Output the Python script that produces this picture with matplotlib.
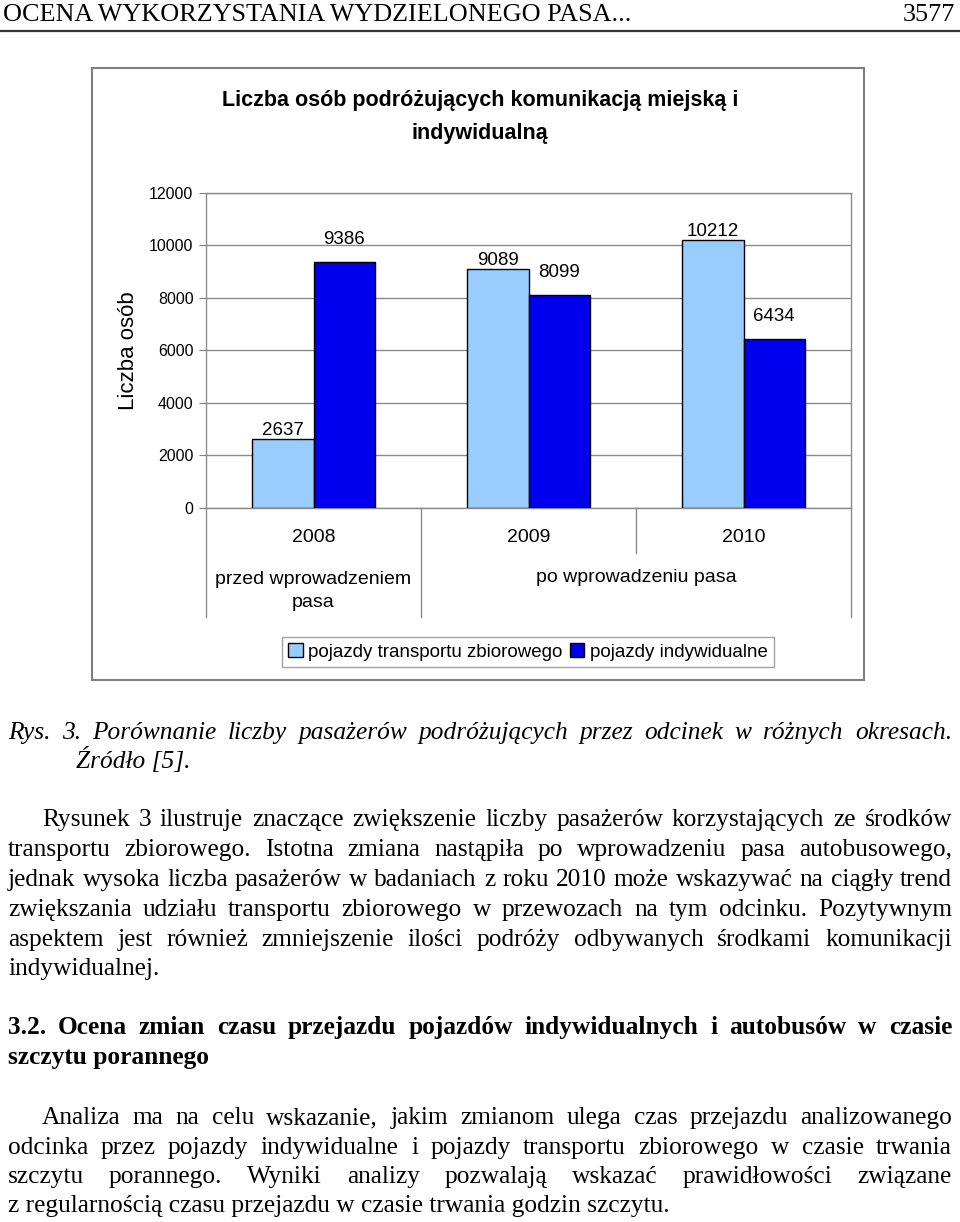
import numpy as np
import matplotlib
matplotlib.use('Agg')
import matplotlib.pyplot as plt
from matplotlib.patches import Rectangle, Patch
from matplotlib.lines import Line2D

# ---------------- data ----------------
years = ['2008', '2009', '2010']
period_labels = ['przed wprowadzeniem\npasa', 'po wprowadzeniu pasa']
transit = [2637, 9089, 10212]
individual = [9386, 8099, 6434]
series_names = ['pojazdy transportu zbiorowego', 'pojazdy indywidualne']
chart_title = 'Liczba osób podróżujących komunikacją miejską i\nindywidualną'
y_label = 'Liczba osób'
y_ticks = [0, 2000, 4000, 6000, 8000, 10000, 12000]

header_left = 'OCENA WYKORZYSTANIA WYDZIELONEGO PASA...'
header_right = '3577'
caption = ['Rys. 3. Porównanie liczby pasażerów podróżujących przez odcinek w różnych okresach.',
           'Źródło [5].']
para1 = ['Rysunek 3 ilustruje znaczące zwiększenie liczby pasażerów korzystających ze środków',
         'transportu zbiorowego. Istotna zmiana nastąpiła po wprowadzeniu pasa autobusowego,',
         'jednak wysoka liczba pasażerów w badaniach z roku 2010 może wskazywać na ciągły trend',
         'zwiększania udziału transportu zbiorowego w przewozach na tym odcinku. Pozytywnym',
         'aspektem jest również zmniejszenie ilości podróży odbywanych środkami komunikacji',
         'indywidualnej.']
heading = ['3.2. Ocena zmian czasu przejazdu pojazdów indywidualnych i autobusów w czasie',
           'szczytu porannego']
para2 = ['Analiza ma na celu wskazanie, jakim zmianom ulega czas przejazdu analizowanego',
         'odcinka przez pojazdy indywidualne i pojazdy transportu zbiorowego w czasie trwania',
         'szczytu porannego. Wyniki analizy pozwalają wskazać prawidłowości związane',
         'z regularnością czasu przejazdu w czasie trwania godzin szczytu.']

# ---------------- layout helpers ----------------
W, H = 960, 1222
fig = plt.figure(figsize=(W / 100, H / 100), dpi=100)
fig.patch.set_facecolor('white')


def fx(x):
    return x / W


def fy(y):
    return 1 - y / H


SERIF = ['Liberation Serif', 'DejaVu Serif']
SANS = ['Liberation Sans', 'DejaVu Sans']
LIGHT = '#99CCFF'
DARK = '#0000EE'
GRID = '#8a8a8a'

renderer = fig.canvas.get_renderer()


def justify(line, x0, x1, yb, size, **kw):
    words = line.split()
    texts = [fig.text(0, fy(yb), w, va='baseline', ha='left', fontsize=size,
                      family=SERIF, **kw) for w in words]
    widths = [t.get_window_extent(renderer).width for t in texts]
    n = len(texts)
    avail = x1 - x0
    min_gap = 0.2 * size * 100 / 72
    if sum(widths) + (n - 1) * min_gap > avail:
        new = size * (avail - (n - 1) * min_gap) / sum(widths)
        for t in texts:
            t.set_fontsize(new)
        widths = [t.get_window_extent(renderer).width for t in texts]
    gap = (avail - sum(widths)) / max(n - 1, 1)
    x = x0
    for t, w in zip(texts, widths):
        t.set_x(fx(x))
        x += w + gap


def plain(line, x0, yb, size, **kw):
    fig.text(fx(x0), fy(yb), line, va='baseline', ha='left', fontsize=size,
             family=SERIF, **kw)


# ---------------- header ----------------
fig.text(fx(3), fy(21), header_left, family=SERIF, fontsize=18.8, va='baseline', ha='left')
fig.text(fx(955), fy(21), header_right, family=SERIF, fontsize=18.8, va='baseline', ha='right')
fig.add_artist(Line2D([0, 1], [fy(30.5)] * 2, transform=fig.transFigure, color='#333333', lw=1.6))

# ---------------- chart ----------------
fig.add_artist(Rectangle((fx(92), fy(680)), fx(864) - fx(92), (680 - 68) / H,
                         transform=fig.transFigure, fill=False, edgecolor='#7f7f7f', lw=1.5))

fig.text(fx(480), fy(117), chart_title, family=SANS, fontsize=15.5, weight='bold',
         ha='center', va='center', linespacing=1.75)

ax = fig.add_axes([fx(206), fy(508), fx(851) - fx(206), (508 - 193) / H])
xc = np.arange(len(years)) + 0.5
bw = 0.286
ax.bar(xc - bw / 2, transit, bw, color=LIGHT, edgecolor='black', linewidth=1.0, zorder=3)
ax.bar(xc + bw / 2, individual, bw, color=DARK, edgecolor='black', linewidth=1.0, zorder=3)
ax.set_xlim(0, len(years))
ax.set_ylim(y_ticks[0], y_ticks[-1])
ax.set_yticks(y_ticks)
ax.set_yticklabels([str(v) for v in y_ticks], family=SANS)
ax.yaxis.grid(True, color=GRID, lw=1)
ax.set_axisbelow(True)
ax.set_xticks([])
ax.tick_params(axis='y', direction='out', length=5, color='#808080', labelsize=11.5, pad=4)
for s in ax.spines.values():
    s.set_color('#8a8a8a')
    s.set_linewidth(1)

for xi, v in zip(xc - bw / 2, transit):
    ax.annotate(str(v), (xi, v), xytext=(0, 3), textcoords='offset points',
                ha='center', va='baseline', fontsize=13.5, family=SANS)
for xi, v in zip(xc + bw / 2, individual):
    ax.annotate(str(v), (xi, v), xytext=(0, 13), textcoords='offset points',
                ha='center', va='baseline', fontsize=13.5, family=SANS)

tr = ax.get_xaxis_transform()
ph = 508 - 193
for xs, y_end in [(0, 617), (1, 617), (2, 553), (3, 617)]:
    ax.plot([xs, xs], [0, (508 - y_end) / ph], transform=tr, color=GRID, lw=1, clip_on=False)
for xi, yr in zip(xc, years):
    ax.text(xi, (508 - 538) / ph, yr, transform=tr, ha='center', va='center',
            fontsize=14, family=SANS)
ax.text(0.5, (508 - 591) / ph, period_labels[0], transform=tr, ha='center', va='center',
        fontsize=14, family=SANS, linespacing=1.4)
ax.text(2.0, (508 - 578) / ph, period_labels[1], transform=tr, ha='center', va='center',
        fontsize=14, family=SANS)

fig.text(fx(128), fy(351), y_label, rotation=90, ha='center', va='center',
         fontsize=16, family=SANS)

handles = [Patch(facecolor=LIGHT, edgecolor='black', label=series_names[0]),
           Patch(facecolor=DARK, edgecolor='black', label=series_names[1])]
leg = fig.legend(handles=handles, loc='center', bbox_to_anchor=(fx(528), fy(652)), ncol=2,
                 frameon=True, fancybox=False, edgecolor='#8a8a8a',
                 prop={'family': SANS, 'size': 13.5}, handlelength=0.75, handleheight=0.75,
                 handletextpad=0.3, columnspacing=0.4, borderpad=0.35, borderaxespad=0)
leg.get_frame().set_linewidth(1)

# ---------------- body text ----------------
BS = 18.3
justify(caption[0], 8, 952, 739, BS, style='italic')
plain(caption[1], 76, 768, BS, style='italic')

ys1 = [826, 856, 886, 916, 946, 975]
for i, (line, yb) in enumerate(zip(para1, ys1)):
    x0 = 42 if i == 0 else 8
    if i < len(para1) - 1:
        justify(line, x0, 952, yb, BS)
    else:
        plain(line, x0, yb, BS)

justify(heading[0], 8, 952, 1034, BS, weight='bold')
plain(heading[1], 8, 1064, BS, weight='bold')

ys2 = [1124, 1154, 1183, 1212]
for i, (line, yb) in enumerate(zip(para2, ys2)):
    x0 = 42 if i == 0 else 8
    if i < len(para2) - 1:
        justify(line, x0, 952, yb, BS)
    else:
        plain(line, x0, yb, BS)

fig.savefig('out.png', dpi=100, facecolor='white')
